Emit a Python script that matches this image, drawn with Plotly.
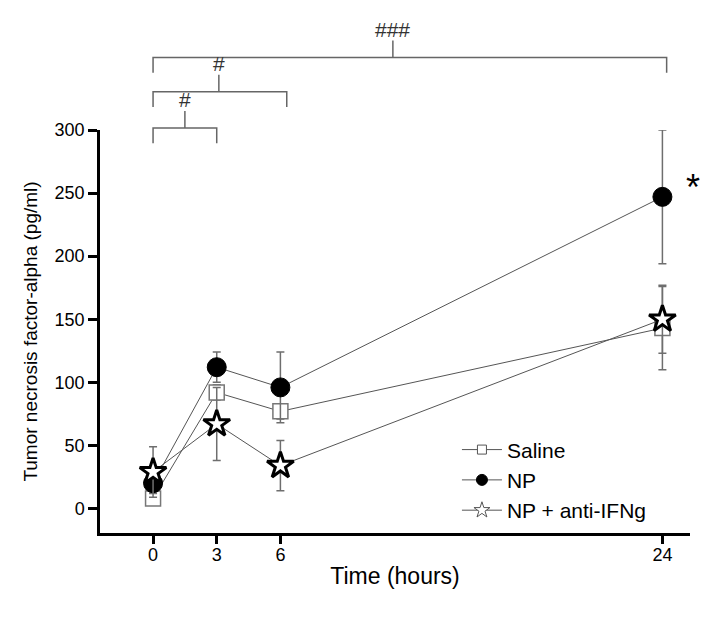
import plotly.graph_objects as go

# ==================================
# DATA
# ==================================

hours = [0, 3, 6, 24]

saline_mean = [8, 92, 77, 143]
saline_err = [5, 6, 6, 33]

np_mean = [20, 112, 96, 247]
np_err = [8, 12, 28, 53]

ifng_mean = [29, 67, 34, 150]
ifng_err = [20, 29, 20, 27]

series_names = ["Saline", "NP", "NP + anti-IFNg"]

# significance brackets (hours from / to, label)
bracket_from = [0, 0, 0]
bracket_to = [3, 6.3, 24.2]
bracket_mid = [1.5, 3.1, 11.3]
bracket_labels = ["#", "#", "###"]

FONT = "Liberation Sans, Arial, sans-serif"
LINE = "#555555"
ERR = "#6e6e6e"


# ==================================
# TRACES
# ==================================

fig = go.Figure()

fig.add_trace(go.Scatter(
    x=hours, y=saline_mean, name=series_names[0], showlegend=False,
    mode="lines+markers",
    line=dict(color=LINE, width=1),
    marker=dict(symbol="square", size=15, color="white",
                line=dict(color="#777777", width=1.5)),
    error_y=dict(type="data", array=saline_err, color=ERR,
                 thickness=1.5, width=4)
))

fig.add_trace(go.Scatter(
    x=hours, y=np_mean, name=series_names[1], showlegend=False,
    mode="lines+markers",
    line=dict(color=LINE, width=1),
    marker=dict(symbol="circle", size=19, color="black",
                line=dict(color="black", width=1)),
    error_y=dict(type="data", array=np_err, color=ERR,
                 thickness=1.5, width=4)
))

fig.add_trace(go.Scatter(
    x=hours, y=ifng_mean, name=series_names[2], showlegend=False,
    mode="lines+markers",
    line=dict(color=LINE, width=1),
    marker=dict(symbol="star", size=20, color="white",
                line=dict(color="black", width=3)),
    error_y=dict(type="data", array=ifng_err, color=ERR,
                 thickness=1.5, width=4)
))

# legend entries with the small symbols of the original key
legend_markers = [
    dict(symbol="square", size=9, color="white", line=dict(color="#555555", width=1)),
    dict(symbol="circle", size=11, color="black", line=dict(color="black", width=1)),
    dict(symbol="star", size=12, color="white", line=dict(color="#555555", width=1)),
]
for name, mk in zip(series_names, legend_markers):
    fig.add_trace(go.Scatter(
        x=[None], y=[None], name=name, mode="lines+markers",
        line=dict(color=LINE, width=1), marker=mk
    ))


# ==================================
# BRACKETS
# ==================================

levels = [1.005, 1.095, 1.180]
for x0, x1, xm, lab, lv in zip(bracket_from, bracket_to, bracket_mid,
                               bracket_labels, levels):
    fig.add_shape(type="path", xref="x", yref="paper",
                  path=f"M {x0},{lv - 0.038} L {x0},{lv} L {x1},{lv} L {x1},{lv - 0.038}",
                  line=dict(color="#666666", width=1.5))
    fig.add_shape(type="line", xref="x", yref="paper",
                  x0=xm, x1=xm, y0=lv, y1=lv + 0.042,
                  line=dict(color="#666666", width=1.5))
    fig.add_annotation(x=xm, y=lv + 0.036, xref="x", yref="paper",
                       text=lab, showarrow=False, yanchor="bottom",
                       font=dict(family=FONT, size=21, color="#333333"))

fig.add_annotation(x=24, y=247, xref="x", yref="y", xshift=31, yshift=9,
                   text="*", showarrow=False,
                   font=dict(family=FONT, size=36, color="black"))


# ==================================
# LAYOUT
# ==================================

fig.update_layout(
    width=724, height=617,
    margin=dict(l=92, r=42, t=122, b=92),
    plot_bgcolor="white", paper_bgcolor="white",
    font=dict(family=FONT, color="black"),
    legend=dict(x=0.605, y=0.257, xanchor="left", yanchor="top",
                font=dict(size=21), bgcolor="rgba(0,0,0,0)",
                tracegroupgap=0, itemwidth=40),
    xaxis=dict(
        range=[-2.5, 25.3], tickvals=hours,
        showline=True, linecolor="black", linewidth=2.5,
        ticks="outside", ticklen=8, tickwidth=2.5, tickcolor="black",
        showgrid=False, zeroline=False,
        tickfont=dict(size=18), ticklabelstandoff=-4,
        title=dict(text="Time (hours)", font=dict(size=23), standoff=4)
    ),
    yaxis=dict(
        range=[-19.4, 300], tickvals=[0, 50, 100, 150, 200, 250, 300],
        showline=True, linecolor="black", linewidth=2.5,
        ticks="outside", ticklen=9, tickwidth=2.5, tickcolor="black",
        showgrid=False, zeroline=False,
        tickfont=dict(size=18),
        title=dict(text="Tumor necrosis factor-alpha (pg/ml)",
                   font=dict(size=19), standoff=12)
    ),
)

fig.write_html("out.html")
